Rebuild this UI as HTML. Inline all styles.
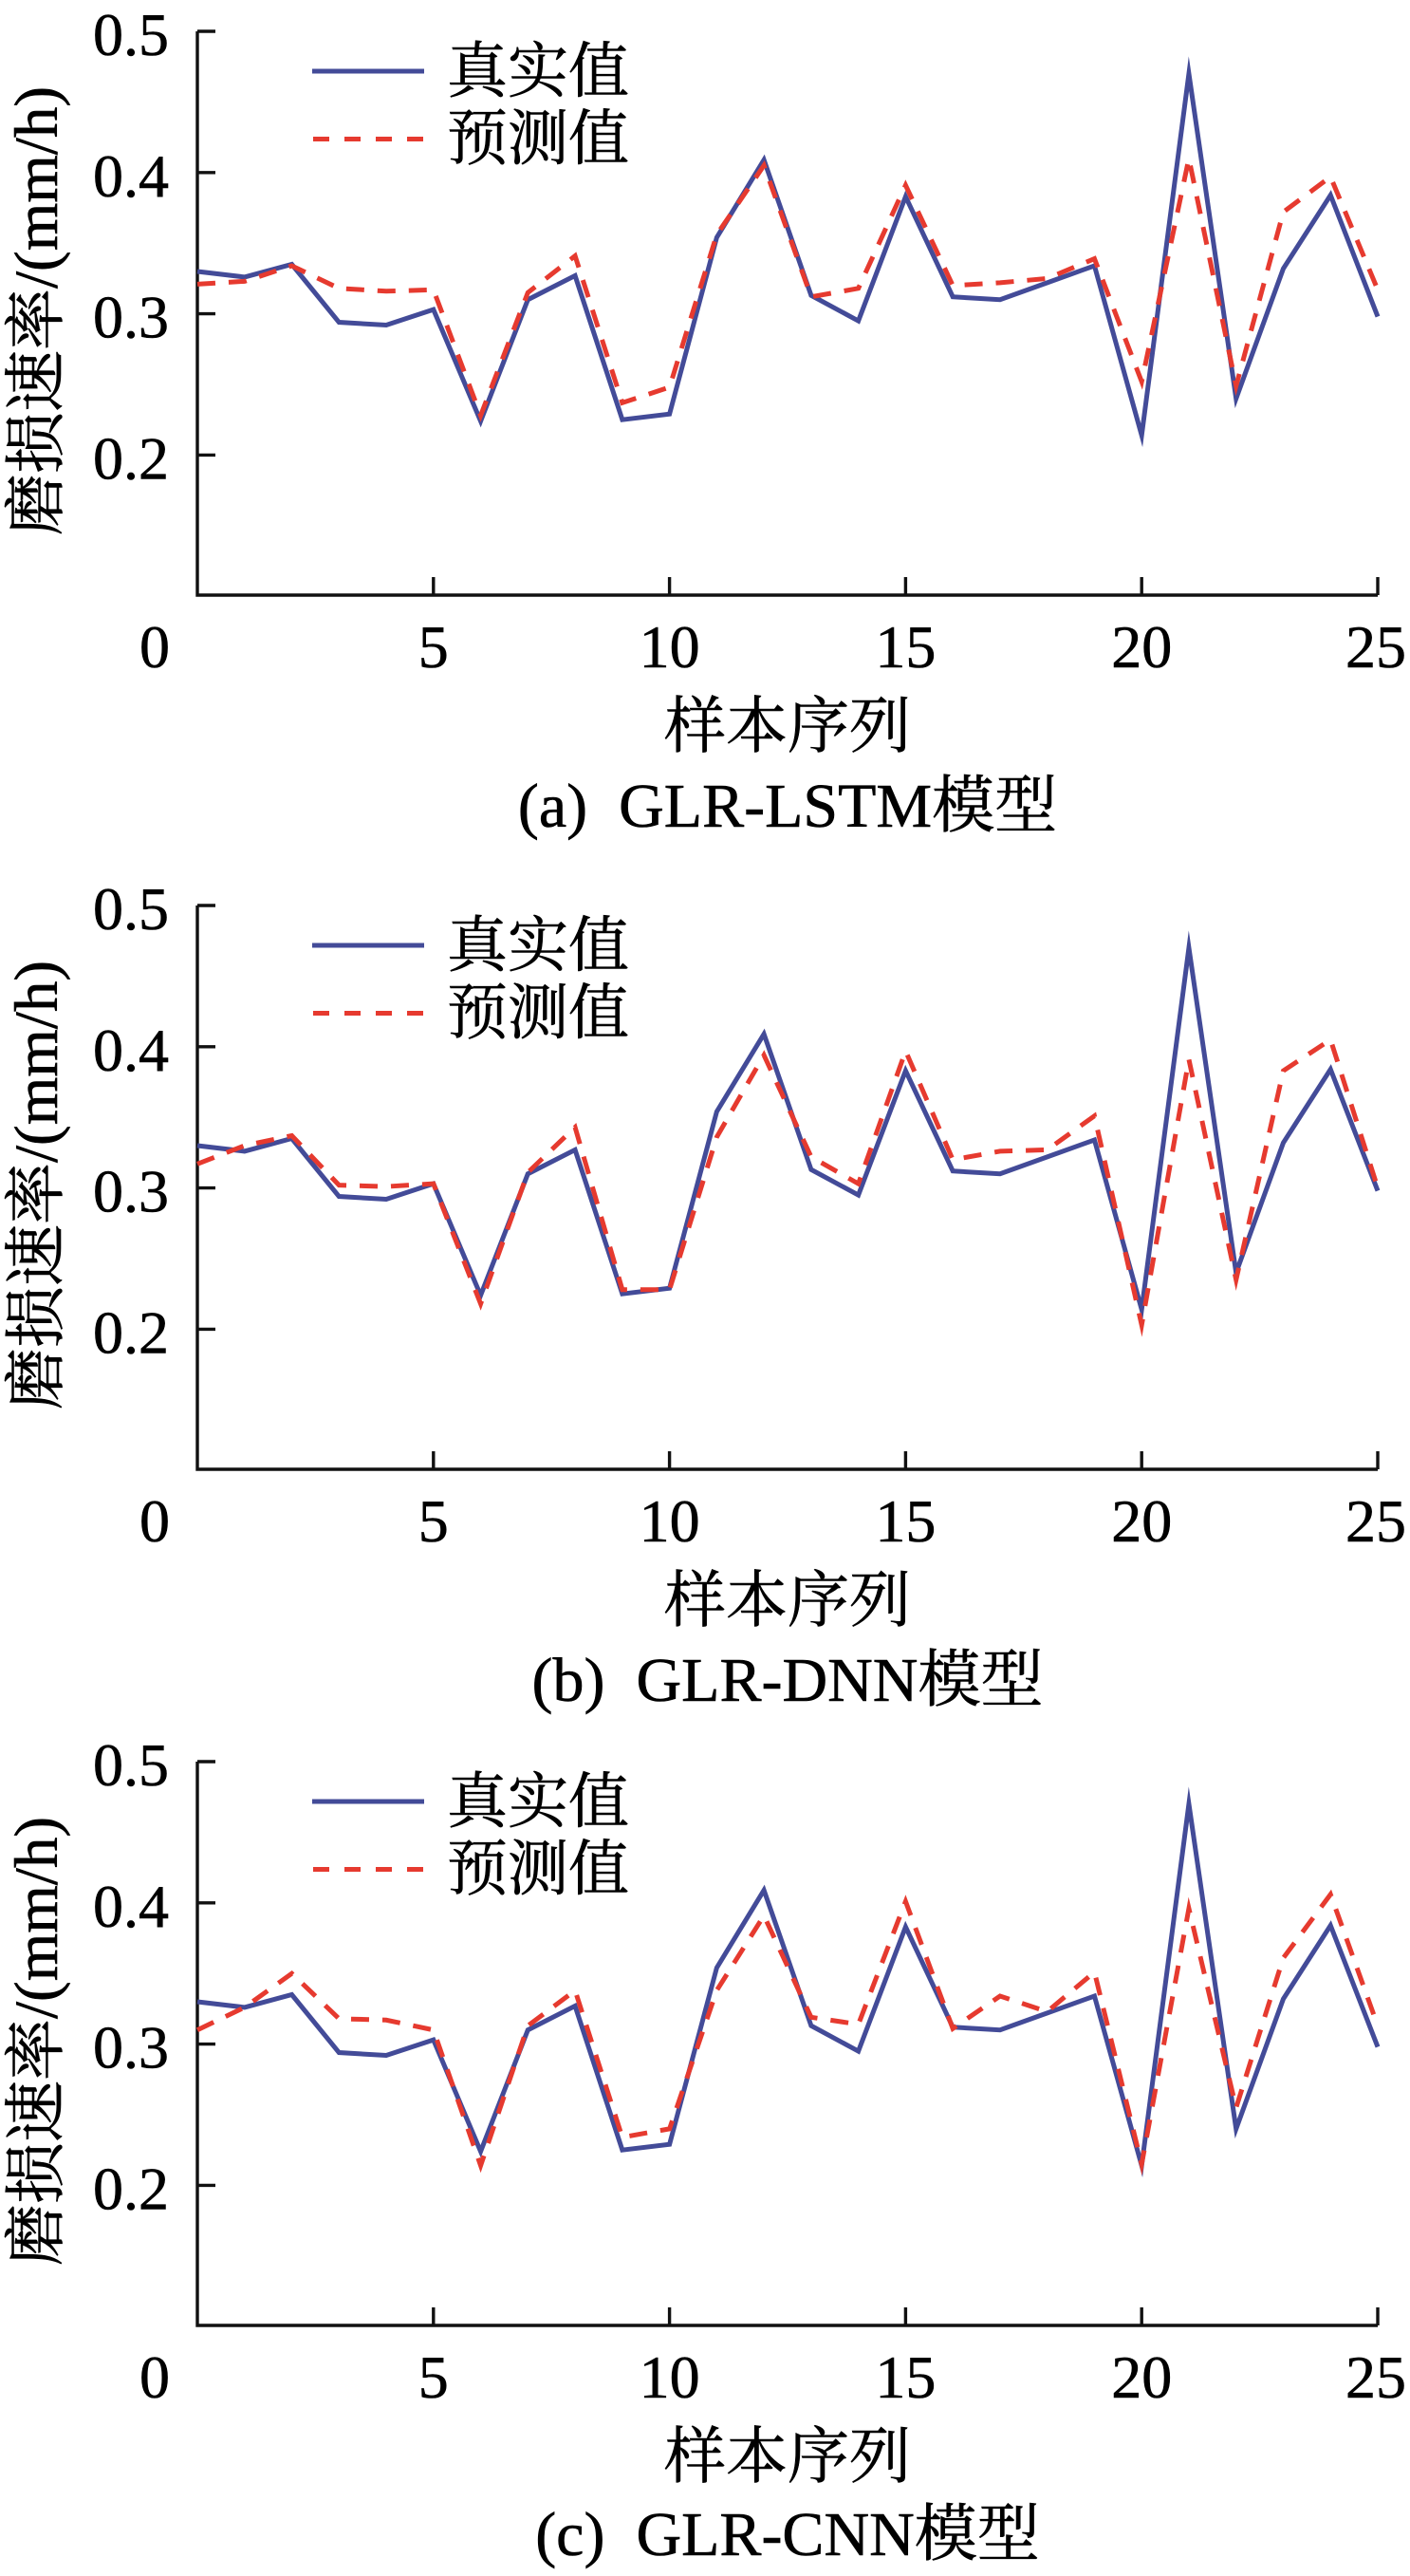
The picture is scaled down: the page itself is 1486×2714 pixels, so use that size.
<!DOCTYPE html>
<html>
<head>
<meta charset="utf-8">
<style>
  html, body { margin:0; padding:0; background:#fff; }
  svg { display:block; }
  text { font-family: "Liberation Serif", "Noto Serif CJK SC", "Noto Serif CJK JP", serif; fill:#000; stroke:#000; stroke-width:0.6px; }
</style>
</head>
<body>
<svg width="1486" height="2714" viewBox="0 0 1486 2714" xmlns="http://www.w3.org/2000/svg">
  <defs>
    <g id="axes">
      <path d="M208,0 V594 H1452" fill="none" stroke="#111" stroke-width="3.4"/>
      <path d="M208,0 H227 M208,148.8 H227 M208,297.6 H227 M208,446.4 H227" stroke="#111" stroke-width="3.4"/>
      <path d="M456.8,594 V575 M705.6,594 V575 M954.4,594 V575 M1203.2,594 V575 M1452,594 V575" stroke="#111" stroke-width="3.4"/>
      <g font-size="64" text-anchor="end">
        <text x="178" y="25">0.5</text>
        <text x="178" y="173.8">0.4</text>
        <text x="178" y="322.6">0.3</text>
        <text x="178" y="471.4">0.2</text>
      </g>
      <g font-size="64" text-anchor="middle">
        <text x="163" y="670">0</text>
        <text x="456.8" y="670">5</text>
        <text x="705.6" y="670">10</text>
        <text x="954.4" y="670">15</text>
        <text x="1203.2" y="670">20</text>
        <text x="1450" y="670">25</text>
      </g>
      <text x="830" y="754" font-size="65" text-anchor="middle">样本序列</text>
      <text transform="translate(60,294.5) rotate(-90)" font-size="65" text-anchor="middle">磨损速率/(mm/h)</text>
      <line x1="329" y1="42" x2="447" y2="42" stroke="#434b98" stroke-width="5"/>
      <line x1="330" y1="113.5" x2="447" y2="113.5" stroke="#e63a2f" stroke-width="5" stroke-dasharray="17 16"/>
      <text x="471" y="64" font-size="64">真实值</text>
      <text x="471" y="135" font-size="64">预测值</text>
      <polyline fill="none" stroke="#434b98" stroke-width="5" stroke-linejoin="miter" stroke-miterlimit="12"
        points="208,252.96 257.76,258.91 307.52,245.52 357.28,306.53 407.04,309.5 456.8,293.14 506.56,410.69 556.32,282.72 606.08,257.42 655.84,409.2 705.6,403.25 755.36,217.25 805.12,135.41 854.88,278.26 904.64,305.04 954.4,174.1 1004.16,279.74 1053.92,282.72 1103.68,264.86 1153.44,247.01 1203.2,425.57 1252.96,44.64 1302.72,386.88 1352.48,249.98 1402.24,172.61 1452,300.58"/>
    </g>
  </defs>

  <g transform="translate(0,33)">
    <use href="#axes"/>
    <polyline fill="none" stroke="#e63a2f" stroke-width="5" stroke-dasharray="19 14" stroke-linejoin="miter" stroke-miterlimit="12"
      points="208,266.35 257.76,263.38 307.52,247.01 357.28,270.82 407.04,273.79 456.8,272.3 506.56,404.74 556.32,275.28 606.08,236.59 655.84,391.34 705.6,374.98 755.36,214.27 805.12,141.36 854.88,279.74 904.64,270.82 954.4,162.19 1004.16,267.84 1053.92,264.86 1103.68,260.4 1153.44,239.57 1203.2,369.02 1252.96,133.92 1302.72,373.49 1352.48,190.46 1402.24,153.26 1452,272.3"/>
    <text x="830" y="838" font-size="66" text-anchor="middle" style="white-space:pre">(a)  GLR-LSTM模型</text>
  </g>

  <g transform="translate(0,954)">
    <use href="#axes"/>
    <polyline fill="none" stroke="#e63a2f" stroke-width="5" stroke-dasharray="19 14" stroke-linejoin="miter" stroke-miterlimit="12"
      points="208,272.3 257.76,252.96 307.52,242.54 357.28,294.62 407.04,296.11 456.8,293.14 506.56,419.62 556.32,281.23 606.08,233.62 655.84,404.74 705.6,404.74 755.36,244.03 805.12,157.73 854.88,264.86 904.64,293.14 954.4,153.26 1004.16,267.84 1053.92,258.91 1103.68,257.42 1153.44,221.71 1203.2,441.94 1252.96,162.19 1302.72,394.32 1352.48,174.1 1402.24,141.36 1452,297.6"/>
    <text x="830" y="838" font-size="66" text-anchor="middle" style="white-space:pre">(b)  GLR-DNN模型</text>
  </g>

  <g transform="translate(0,1856)">
    <use href="#axes"/>
    <polyline fill="none" stroke="#e63a2f" stroke-width="5" stroke-dasharray="19 14" stroke-linejoin="miter" stroke-miterlimit="12"
      points="208,282.72 257.76,258.91 307.52,223.2 357.28,270.82 407.04,272.3 456.8,282.72 506.56,425.57 556.32,278.26 606.08,241.06 655.84,395.81 705.6,386.88 755.36,241.06 805.12,162.19 854.88,269.33 904.64,276.77 954.4,147.31 1004.16,281.23 1053.92,247.01 1103.68,263.38 1153.44,221.71 1203.2,424.08 1252.96,154.75 1302.72,364.56 1352.48,206.83 1402.24,139.87 1452,278.26"/>
    <text x="830" y="836" font-size="66" text-anchor="middle" style="white-space:pre">(c)  GLR-CNN模型</text>
  </g>
</svg>
</body>
</html>
